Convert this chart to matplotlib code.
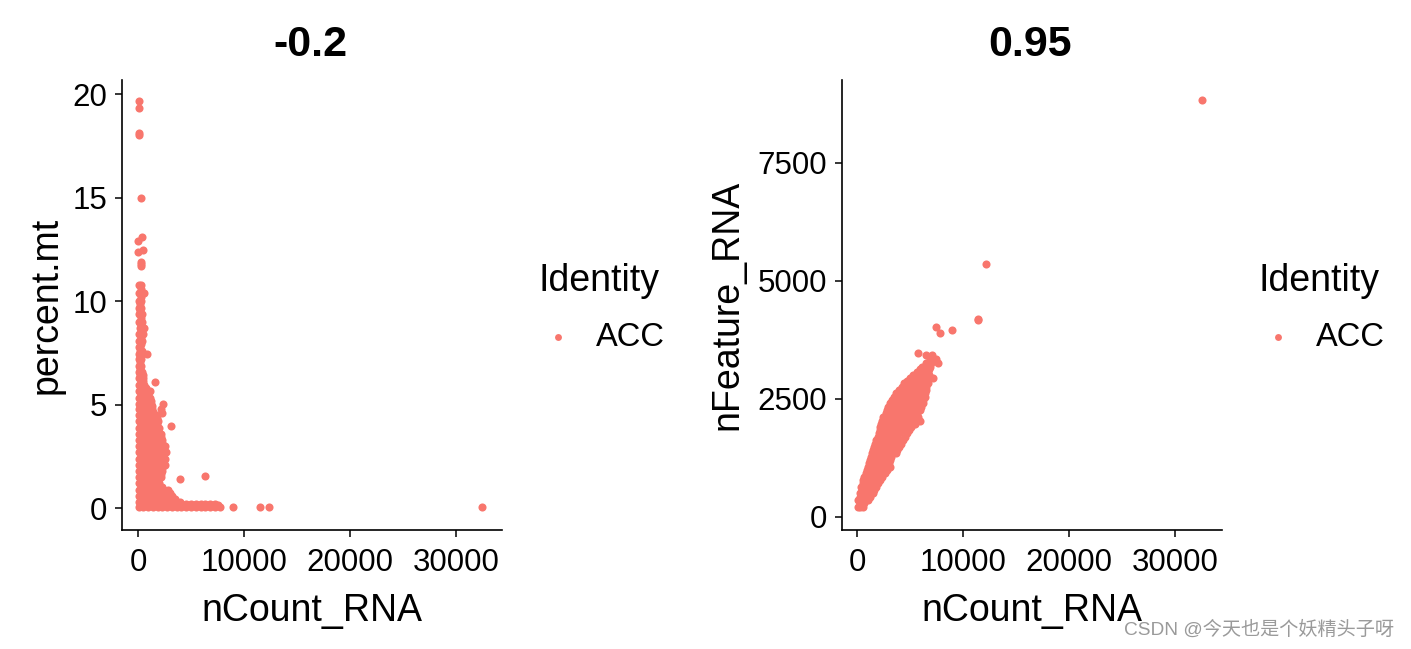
import matplotlib
matplotlib.use("Agg")
import matplotlib.pyplot as plt

W, H = 1411, 649
POINT = "#F8766D"
plt.rcParams["font.family"] = ["Liberation Sans", "Noto Sans CJK SC"]

# percent.mt panel, one row of nCount_RNA values per percent.mt level
mt_levels = [0.05, 0.2, 0.3, 0.6, 0.9, 1.2, 1.4, 1.5, 1.58, 1.8, 2.1, 2.4, 2.7, 3.0,
             3.3, 3.6, 3.9, 4.0, 4.2, 4.5, 4.6, 4.8, 5.05, 5.35, 5.65, 5.95, 6.12,
             6.3, 6.6, 6.9, 7.2, 7.46, 7.8, 8.1, 8.4, 8.7, 9.0, 9.4, 9.7, 10.0,
             10.4, 10.8, 11.7, 11.8, 11.9, 12.4, 12.5, 12.9, 13.1, 15.0, 18.05,
             18.12, 19.37, 19.68]
mt_counts = [
    [50, 500, 950, 1400, 1850, 2300, 2750, 3200, 3650, 4100, 4550, 5000, 5450, 5900,
     6350, 6800, 7250, 7700, 8930, 11540, 12360, 32500],
    [4500, 5000, 5500, 5900, 6300, 6800, 7300],
    [50, 450, 850, 1250, 1650, 2050, 2450, 2850, 3250, 3600, 3950],
    [50, 450, 850, 1250, 1650, 2050, 2450, 2850, 3200],
    [50, 450, 850, 1250, 1650, 2050, 2450, 2800],
    [50, 450, 850, 1250, 1650, 2000],
    [3960],
    [50, 450, 850, 1250, 1650, 2200],
    [6320],
    [50, 450, 850, 1250, 1650, 2000, 2300],
    [50, 450, 850, 1250, 1650, 2050, 2500],
    [50, 450, 850, 1250, 1650, 2050, 2550],
    [50, 450, 850, 1250, 1650, 2050, 2600],
    [50, 450, 850, 1250, 1650, 2050, 2550],
    [50, 450, 850, 1250, 1650, 2000, 2300],
    [50, 450, 850, 1250, 1650, 2200],
    [50, 450, 850, 1250, 1650, 1950],
    [3080],
    [50, 450, 850, 1250, 1650, 1900],
    [50, 450, 850, 1250, 1700],
    [2300],
    [50, 450, 850, 1300, 2200],
    [50, 450, 850, 1250, 2390],
    [50, 450, 800, 1100],
    [50, 450, 800, 1100],
    [50, 350, 600],
    [1600],
    [50, 500],
    [50, 350],
    [50, 250],
    [50, 300],
    [50, 400, 880],
    [50, 200],
    [50, 400],
    [100, 500],
    [150, 566],
    [100, 400],
    [50, 350],
    [100, 300],
    [50, 250],
    [100, 566],
    [50, 250],
    [280],
    [280],
    [280],
    [30],
    [500],
    [30],
    [350],
    [280],
    [90],
    [90],
    [90],
    [90],
]
# denser cells between the rows above
mt_fill_levels = [0.15, 0.45, 0.75, 1.05, 1.35, 1.65, 1.95, 2.25, 2.55, 2.85, 3.15, 3.45,
                  3.75, 4.05, 4.35, 4.65, 4.95, 5.2, 5.5, 5.8, 6.15, 6.45, 6.75, 7.05,
                  7.6, 7.95, 8.25, 8.55, 8.85, 9.2, 9.55, 9.85, 10.2, 10.6]
mt_fill_counts = [
    [250, 700, 1150, 1600, 2050, 2500, 2950, 3400, 3850, 4300, 4750, 5250, 5700, 6150, 6600, 7050, 7500],
    [250, 650, 1050, 1450, 1850, 2250, 2650, 3050, 3450],
    [250, 650, 1050, 1450, 1850, 2250, 2650, 3000],
    [250, 650, 1050, 1450, 1850, 2300],
    [250, 650, 1050, 1450, 1850],
    [250, 650, 1050, 1450, 1850, 2150],
    [250, 650, 1050, 1450, 1850, 2250],
    [250, 650, 1050, 1450, 1850, 2300],
    [250, 650, 1050, 1450, 1850, 2350],
    [250, 650, 1050, 1450, 1850, 2350],
    [250, 650, 1050, 1450, 1850, 2250],
    [250, 650, 1050, 1450, 1850, 2150],
    [250, 650, 1050, 1450, 1850],
    [250, 650, 1050, 1450, 1800],
    [250, 650, 1050, 1450, 1750],
    [250, 650, 1050, 1450],
    [250, 650, 1050, 1300],
    [250, 650, 950, 1200],
    [250, 650, 950],
    [250, 550, 800],
    [250, 500],
    [200, 450],
    [200],
    [200],
    [200, 400],
    [300],
    [250],
    [300],
    [300],
    [250],
    [200],
    [200],
    [300],
    [300],
]

# nFeature_RNA panel, one row of nCount_RNA values per nFeature_RNA level
feature_levels = [212, 353, 494, 635, 777, 918, 1059, 1200, 1341, 1483, 1624, 1765, 1906,
                  2033, 2118, 2259, 2400, 2542, 2683, 2824, 2930, 3071, 3177, 3262, 3332,
                  3424, 3460, 3900, 3950, 4010, 4165, 4190, 5360, 8830]
feature_counts = [
    [100, 330, 570],
    [100, 500, 1040],
    [250, 700, 1100, 1510],
    [410, 800, 1250, 1820],
    [570, 1000, 1500, 2140],
    [820, 1300, 1800, 2300, 2610],
    [1040, 1500, 2000, 2500, 3140],
    [1200, 1650, 2100, 2600, 3080],
    [1415, 1850, 2300, 2750, 3200, 3650],
    [1600, 2050, 2500, 2950, 3500, 3960],
    [1820, 2250, 2700, 3150, 3600, 4000, 4340],
    [2080, 2500, 3000, 3500, 4000, 4700],
    [2200, 2700, 3200, 3700, 4200, 4700, 5130],
    [2390, 2900, 3400, 3900, 4400, 4900, 5400, 5975],
    [2450, 2950, 3450, 3950, 4450, 4950, 5450, 5750],
    [2830, 3300, 3800, 4300, 4800, 5300, 5900],
    [3080, 3600, 4100, 4600, 5100, 5600, 6230],
    [3460, 4000, 4500, 5000, 5500, 6000, 6380],
    [3960, 4450, 4950, 5450, 5950, 6480],
    [4400, 4900, 5400, 5900, 6300, 6700],
    [4970, 5500, 6000, 6500, 7170],
    [5660, 6200, 6700],
    [6160, 6500, 6860],
    [6540, 7000, 7640],
    [6860, 7490],
    [6480, 7100],
    [5720],
    [7800],
    [8960],
    [7485],
    [11416],
    [11400],
    [12200],
    [32500],
]
# denser cells between the rows above
feature_fill_levels = [280, 420, 565, 705, 850, 990, 1130, 1270, 1410, 1550, 1695, 1835,
                       1970, 2190, 2330, 2470, 2610, 2750, 2880, 3000, 3125]
feature_fill_counts = [
    [300, 700],
    [300, 750, 1200],
    [450, 900, 1350, 1650],
    [550, 1000, 1500, 1950],
    [700, 1150, 1650, 2100, 2400],
    [930, 1400, 1900, 2400, 2800],
    [1120, 1600, 2100, 2600, 3000],
    [1300, 1750, 2200, 2700, 3200],
    [1500, 1950, 2400, 2850, 3300, 3800],
    [1700, 2150, 2600, 3050, 3500, 4150],
    [1950, 2400, 2850, 3300, 3800, 4500],
    [2150, 2750, 3250, 3750, 4250, 4900],
    [2300, 2950, 3450, 3950, 4450, 4950, 5500],
    [2700, 3200, 3700, 4200, 4700, 5200, 5700],
    [2950, 3450, 3950, 4450, 4950, 5450, 6000],
    [3300, 3800, 4300, 4800, 5300, 5800, 6250],
    [3700, 4200, 4700, 5200, 5700, 6200, 6450],
    [4200, 4700, 5200, 5700, 6100, 6550],
    [4700, 5150, 5650, 6150, 6600],
    [5300, 5800, 6300, 6800],
    [5900, 6400, 6800],
]

x_ticks = [0, 10000, 20000, 30000]
mt_ticks = [0, 5, 10, 15, 20]
feature_ticks = [0, 2500, 5000, 7500]


def flatten(levels, rows):
    xs, ys = [], []
    for level, row in zip(levels, rows):
        xs += row
        ys += [level] * len(row)
    return xs, ys


def panel(left, xlim, ylim, xs, ys, yticks, ylabel, title, ylabel_x, legend_x):
    right = left + 380
    ax = fig.add_axes([left / W, 1 - 530 / H, (right - left) / W, 450 / H])
    ax.scatter(xs, ys, s=34, color=POINT, linewidths=0, label="ACC", zorder=3)
    ax.set_xlim(*xlim)
    ax.set_ylim(*ylim)
    ax.set_xticks(x_ticks)
    ax.set_yticks(yticks)
    ax.tick_params(labelsize=22.5, length=5, width=1.1)
    ax.tick_params(axis="x", pad=8.3)
    ax.tick_params(axis="y", pad=5.5)
    for s in ("top", "right"):
        ax.spines[s].set_visible(False)
    for s in ("left", "bottom"):
        ax.spines[s].set_linewidth(1.2)
    ax.set_xlabel("nCount_RNA", fontsize=27)
    ax.xaxis.set_label_coords(0.5, -0.14, transform=ax.transAxes)
    ax.set_ylabel(ylabel, fontsize=27)
    ax.yaxis.set_label_coords(ylabel_x, 0.5)
    ax.set_title(title, fontsize=31, fontweight="bold", pad=17, x=0.495)
    leg = ax.legend(title="Identity", loc="center left", frameon=False,
                    bbox_to_anchor=(legend_x / W, 1 - 308 / H),
                    bbox_transform=fig.transFigure, fontsize=23.5,
                    title_fontsize=27, handlelength=1.2, handletextpad=0.58,
                    borderpad=0, labelspacing=0, markerscale=0.85, borderaxespad=0)
    leg._legend_box.align = "left"
    leg._legend_box.sep = 16
    return ax


fig = plt.figure(figsize=(W / 100, H / 100), dpi=100)

xs, ys = flatten(mt_levels + mt_fill_levels, mt_counts + mt_fill_counts)
panel(122, (-1510, 34340), (-1.05, 20.7), xs, ys, mt_ticks, "percent.mt", "-0.2", -0.151, 538)

xs, ys = flatten(feature_levels + feature_fill_levels, feature_counts + feature_fill_counts)
panel(842, (-1415, 34430), (-282, 9250), xs, ys, feature_ticks, "nFeature_RNA", "0.95", -0.255, 1258)

fig.text(1124 / W, 1 - 630 / H, "CSDN @今天也是个妖精头子呀", fontsize=13.8, color="#9a9a9a",
         va="center", ha="left")

fig.savefig("out.png", dpi=100)
